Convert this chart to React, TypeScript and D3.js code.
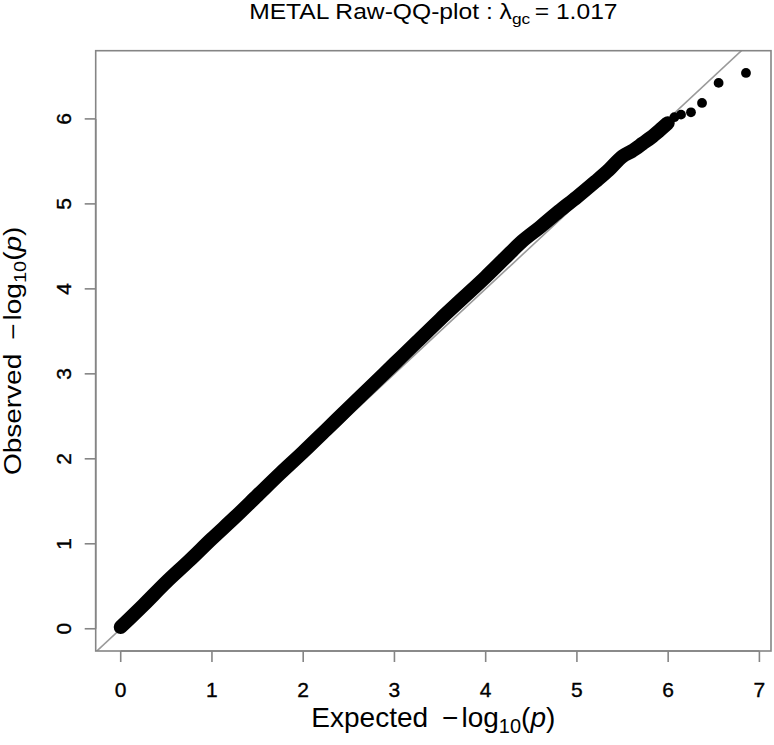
import React from 'react';
import * as d3 from 'd3';

// QQ band (dense part of the curve)
const bandExpected = [0, 0.25, 0.5, 0.75, 1.0, 1.25, 1.5, 1.75, 2.0, 2.25, 2.5, 2.75, 3.0, 3.25, 3.5, 3.75, 4.0, 4.2, 4.4, 4.6, 4.8, 5.0, 5.2, 5.35, 5.5, 5.6, 5.72, 5.81, 5.9, 5.995];
const bandObserved = [0.02, 0.28, 0.55, 0.8, 1.06, 1.31, 1.57, 1.83, 2.08, 2.34, 2.6, 2.86, 3.12, 3.38, 3.64, 3.89, 4.14, 4.35, 4.56, 4.73, 4.91, 5.08, 5.26, 5.4, 5.56, 5.62, 5.71, 5.78, 5.86, 5.95];

// the separate points in the upper tail
const tailExpected = [5.9, 5.995, 6.068, 6.141, 6.25, 6.371, 6.553, 6.853];
const tailObserved = [5.86, 5.95, 6.02, 6.05, 6.078, 6.188, 6.424, 6.541];

const xTicks = [0, 1, 2, 3, 4, 5, 6, 7];
const yTicks = [0, 1, 2, 3, 4, 5, 6];

const lambdaGC = '1.017';

const W = 774;
const H = 745;
const left = 95.7;
const right = 771;
const top = 50.7;
const bottom = 651;

const font = '"Liberation Sans", Arial, Helvetica, sans-serif';
const axisGrey = '#858585';

const App = () => {
  const xMax = d3.max(tailExpected) as number;
  const yMax = d3.max(tailObserved) as number;

  // R style 4% padding on each side
  const x = d3.scaleLinear().domain([-0.04 * xMax, xMax * 1.04]).range([left, right]);
  const y = d3.scaleLinear().domain([-0.04 * yMax, yMax * 1.04]).range([bottom, top]);

  const band = bandExpected.map((e, i) => [e, bandObserved[i]] as [number, number]);
  const tail = tailExpected.map((e, i) => [e, tailObserved[i]] as [number, number]);

  const line = d3.line<[number, number]>()
    .x(d => x(d[0]))
    .y(d => y(d[1]))
    .curve(d3.curveMonotoneX);

  const diagLo = -1;
  const diagHi = 8;

  const cx = (left + right) / 2;
  const cy = (top + bottom) / 2;

  return (
    <svg width={W} height={H} style={{ position: 'absolute', left: 0, top: 0, background: '#fff' }} fontFamily={font}>
      <defs>
        <clipPath id="plotArea">
          <rect x={left} y={top} width={right - left} height={bottom - top} />
        </clipPath>
      </defs>

      {/* title */}
      <text transform={`translate(${cx},19.3) scale(1.12,1)`} textAnchor="middle" fontSize={22} fill="#000">
        METAL Raw-QQ-plot : λ<tspan fontSize={15.5} dy={5}>gc</tspan><tspan dy={-5} dx={4}>= {lambdaGC}</tspan>
      </text>

      {/* y=x reference */}
      <g clipPath="url(#plotArea)">
        <line x1={x(diagLo)} y1={y(diagLo)} x2={x(diagHi)} y2={y(diagHi)} stroke="#9a9a9a" strokeWidth={1.6} />
      </g>

      {/* data */}
      <path d={line(band) || ''} fill="none" stroke="#000" strokeWidth={14} strokeLinecap="round" strokeLinejoin="round" />
      {tail.map((d, i) => (
        <circle key={i} cx={x(d[0])} cy={y(d[1])} r={4.9} fill="#000" />
      ))}

      {/* box */}
      <rect x={left} y={top} width={right - left} height={bottom - top} fill="none" stroke={axisGrey} strokeWidth={1.6} />

      {/* x axis */}
      <g>
        <line x1={x(xTicks[0])} x2={x(xTicks[xTicks.length - 1])} y1={bottom} y2={bottom} stroke={axisGrey} strokeWidth={1.6} />
        {xTicks.map(t => (
          <g key={t}>
            <line x1={x(t)} x2={x(t)} y1={bottom} y2={bottom + 11} stroke={axisGrey} strokeWidth={1.6} />
            <text x={x(t)} y={696.7} textAnchor="middle" fontSize={21} fill="#000" stroke="#000" strokeWidth={0.35}>{t}</text>
          </g>
        ))}
      </g>

      {/* y axis */}
      <g>
        <line x1={left} x2={left} y1={y(yTicks[0])} y2={y(yTicks[yTicks.length - 1])} stroke={axisGrey} strokeWidth={1.6} />
        {yTicks.map(t => (
          <g key={t}>
            <line x1={left - 11} x2={left} y1={y(t)} y2={y(t)} stroke={axisGrey} strokeWidth={1.6} />
            <text transform={`translate(70.5,${y(t)}) rotate(-90)`} textAnchor="middle" fontSize={21} fill="#000" stroke="#000" strokeWidth={0.35}>{t}</text>
          </g>
        ))}
      </g>

      {/* axis titles */}
      <text x={cx} y={727} textAnchor="middle" fontSize={28} fill="#000">
        Expected<tspan dx={14}>−</tspan><tspan dx={3}>log</tspan><tspan fontSize={20} dy={6}>10</tspan><tspan dy={-6}>(</tspan><tspan fontStyle="italic">p</tspan>)
      </text>
      <text transform={`translate(21,${cy}) scale(0.83,1) rotate(-90)`} textAnchor="middle" fontSize={28} fill="#000">
        Observed<tspan dx={14}>−</tspan><tspan dx={3}>log</tspan><tspan fontSize={20} dy={6}>10</tspan><tspan dy={-6}>(</tspan><tspan fontStyle="italic">p</tspan>)
      </text>
    </svg>
  );
};

export default App;
